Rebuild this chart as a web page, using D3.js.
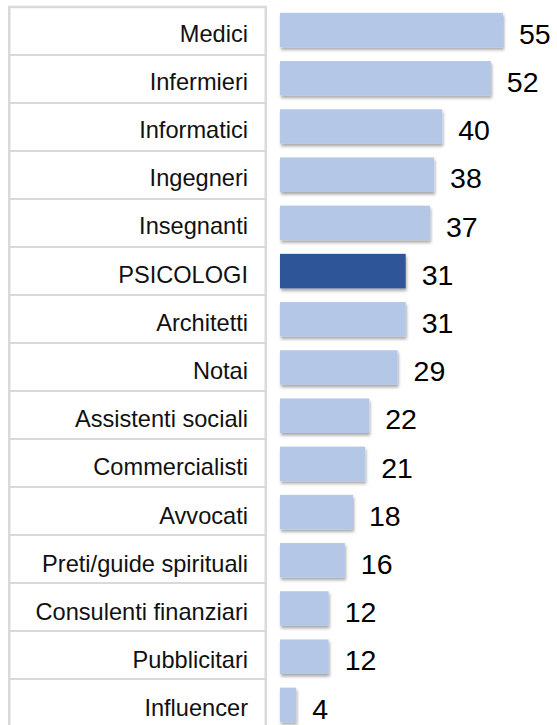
<!DOCTYPE html>
<html>
<head>
<meta charset="utf-8">
<script src="https://cdn.jsdelivr.net/npm/d3@7"></script>
<style>
  html, body { margin: 0; padding: 0; background: #fff; }
  svg { display: block; }
</style>
</head>
<body>
<svg id="chart" width="557" height="725"></svg>
<script>
// Professions and their scores
const categories = [
  "Medici", "Infermieri", "Informatici", "Ingegneri", "Insegnanti",
  "PSICOLOGI", "Architetti", "Notai", "Assistenti sociali", "Commercialisti",
  "Avvocati", "Preti/guide spirituali", "Consulenti finanziari", "Pubblicitari", "Influencer"
];
const values = [55, 52, 40, 38, 37, 31, 31, 29, 22, 21, 18, 16, 12, 12, 4];
const highlighted = ["PSICOLOGI"];

const W = 557, H = 725;
const svg = d3.select("#chart");

svg.append("rect").attr("width", W).attr("height", H).attr("fill", "#fff");

// soft shadow under each bar
const defs = svg.append("defs");
const f = defs.append("filter").attr("id", "barShadow")
  .attr("x", "-10%").attr("y", "-30%").attr("width", "130%").attr("height", "170%");
f.append("feDropShadow")
  .attr("dx", 1).attr("dy", 2.5).attr("stdDeviation", 1.4)
  .attr("flood-color", "#000").attr("flood-opacity", 0.35);

// label table rows
const rowScale = d3.scaleBand().domain(categories).range([7, 7 + 48 * categories.length]).padding(0);
// bar rows
const y = d3.scaleBand().domain(categories)
  .range([6, 6 + 48.2 * categories.length])
  .paddingInner(0.284).paddingOuter(0.142);
const x = d3.scaleLinear().domain([0, 55]).range([280, 503]);

const table = svg.append("g");
const tLeft = 9.3, tRight = 265.8;
table.append("rect")
  .attr("x", tLeft).attr("y", rowScale.range()[0])
  .attr("width", tRight - tLeft)
  .attr("height", rowScale.range()[1] - rowScale.range()[0])
  .attr("fill", "none").attr("stroke", "#d9d9d9").attr("stroke-width", 2.5);
table.selectAll("line.sep")
  .data(categories.slice(1))
  .join("line").attr("class", "sep")
  .attr("x1", tLeft).attr("x2", tRight)
  .attr("y1", d => rowScale(d)).attr("y2", d => rowScale(d))
  .attr("stroke", "#d9d9d9").attr("stroke-width", 2);

table.selectAll("text.cat")
  .data(categories)
  .join("text").attr("class", "cat")
  .attr("x", 248)
  .attr("y", d => y(d) + y.bandwidth() / 2 + 11.4)
  .attr("text-anchor", "end")
  .attr("font-family", "'Liberation Sans', Arial, sans-serif")
  .attr("font-size", 23.6)
  .attr("fill", "#111")
  .text(d => d);

const rows = categories.map((c, i) => ({ c, v: values[i] }));

svg.append("g").selectAll("rect.bar")
  .data(rows)
  .join("rect").attr("class", "bar")
  .attr("x", x(0))
  .attr("y", d => y(d.c))
  .attr("width", d => x(d.v) - x(0))
  .attr("height", y.bandwidth())
  .attr("fill", d => highlighted.includes(d.c) ? "#2f5597" : "#b4c7e7")
  .attr("filter", "url(#barShadow)");

svg.append("g").selectAll("text.val")
  .data(rows)
  .join("text").attr("class", "val")
  .attr("x", d => x(d.v) + 16)
  .attr("y", d => y(d.c) + y.bandwidth() / 2 + 13.6)
  .attr("font-family", "'Liberation Sans', Arial, sans-serif")
  .attr("font-size", 28.5)
  .attr("fill", "#000")
  .text(d => d.v);
</script>
</body>
</html>
